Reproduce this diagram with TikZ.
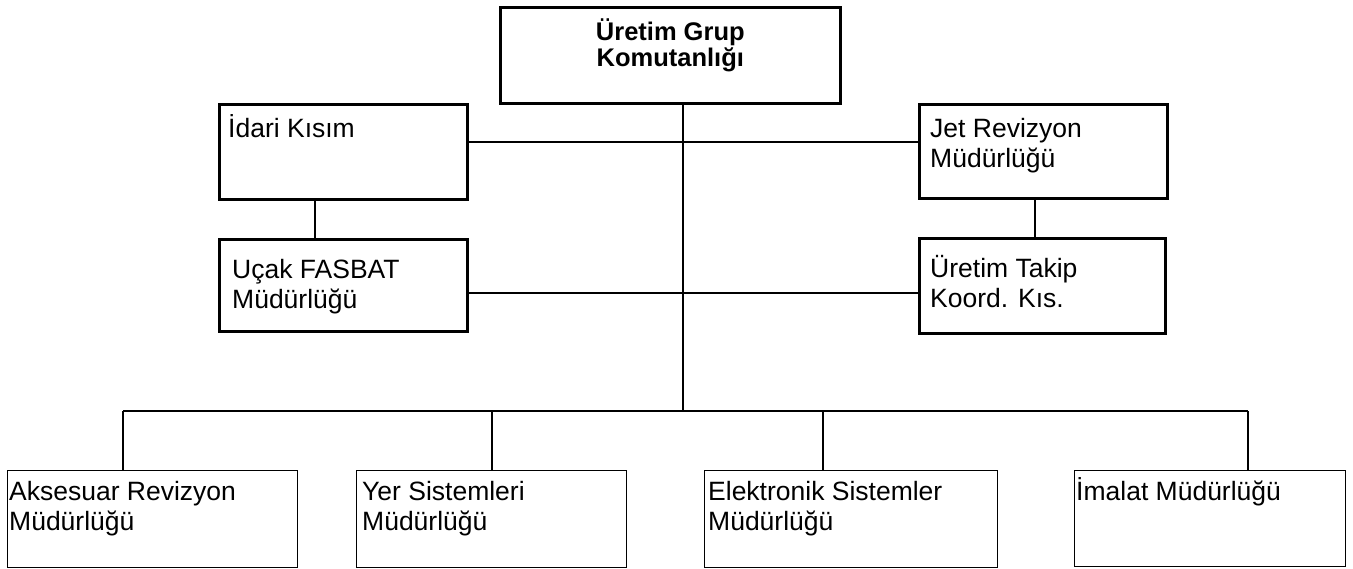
\documentclass[tikz,border=0pt]{standalone}
\usepackage{fontspec}
\setmainfont{Liberation Sans}
\newcommand\twolines[3][l]{\begin{tabular}[t]{@{}#1@{}}#2\\#3\end{tabular}}
\begin{document}
\begin{tikzpicture}[x=1pt,y=-1pt,
  heavy/.style={line width=2.6pt},
  light/.style={line width=1.2pt},
  unitbox/.style={draw, inner sep=0pt, anchor=north west},
  label/.style={inner sep=0pt, anchor=base west,
    font=\fontsize{26.5}{30}\selectfont},
  title/.style={inner sep=0pt, anchor=base,
    font=\fontsize{25.5}{26}\selectfont\bfseries}]
  % page frame
  \useasboundingbox (0,0) rectangle (1353,568);

  % command unit
  \node[unitbox, heavy, minimum width=340pt, minimum height=96pt] (cmd) at (499,6) {};
  \node[title] (cmd-t) at ([yshift=-34pt]cmd.north) {\twolines[c]{Üretim Grup}{Komutanlığı}};

  % staff units beside the main line
  \node[unitbox, heavy, minimum width=248pt, minimum height=95pt] (idari) at (218,103) {};
  \node[unitbox, heavy, minimum width=248pt, minimum height=92pt] (ucak) at (218,238) {};
  \node[unitbox, heavy, minimum width=248pt, minimum height=94pt] (jet) at (918,103) {};
  \node[unitbox, heavy, minimum width=246pt, minimum height=95pt] (takip) at (918,237) {};

  \node[label] (idari-t) at ([xshift=10pt,yshift=-34pt]idari.north west) {İdari Kısım};
  \node[label] (ucak-t) at ([xshift=14pt,yshift=-40pt]ucak.north west) {\twolines{Uçak FASBAT}{Müdürlüğü}};
  \node[label] (jet-t) at ([xshift=12pt,yshift=-34pt]jet.north west) {\twolines{Jet Revizyon}{Müdürlüğü}};
  \node[label] (takip-t) at ([xshift=12pt,yshift=-40pt]takip.north west) {\twolines{Üretim Takip}{Koord. Kıs.}};

  % directorates on the lower row
  \node[unitbox, light, minimum width=290pt, minimum height=97pt] (aks) at (7,470) {};
  \node[unitbox, light, minimum width=270pt, minimum height=97pt] (yer) at (356,470) {};
  \node[unitbox, light, minimum width=293pt, minimum height=97pt] (elek) at (704,470) {};
  \node[unitbox, light, minimum width=271pt, minimum height=96pt] (imalat) at (1074,470) {};

  \node[label] (aks-t) at ([xshift=2pt,yshift=-30pt]aks.north west) {\twolines{Aksesuar Revizyon}{Müdürlüğü}};
  \node[label] (yer-t) at ([xshift=6pt,yshift=-30pt]yer.north west) {\twolines{Yer Sistemleri}{Müdürlüğü}};
  \node[label] (elek-t) at ([xshift=4pt,yshift=-30pt]elek.north west) {\twolines{Elektronik Sistemler}{Müdürlüğü}};
  \node[label] (imalat-t) at ([xshift=2pt,yshift=-30pt]imalat.north west) {İmalat Müdürlüğü};

  % connection points
  \coordinate (spine) at (683,102);
  \coordinate (bus) at (683,411);
  \coordinate (busL) at (123,411);
  \coordinate (busR) at (1248,411);

  % main line and side links
  \draw[heavy] (spine) -- (bus);
  \draw[heavy] (idari.east |- 0,142) -- (jet.west |- 0,142);
  \draw[heavy] (ucak.east |- 0,293) -- (takip.west |- 0,293);
  \draw[heavy] (idari.south -| 315,0) -- (ucak.north -| 315,0);
  \draw[heavy] (jet.south -| 1035,0) -- (takip.north -| 1035,0);

  % distribution bus to the directorates
  \draw[light] (busL) -- (busR);
  \draw[light] (busL) -- (aks.north -| busL);
  \draw[light] (busL -| 492,0) -- (yer.north -| 492,0);
  \draw[light] (busL -| 823,0) -- (elek.north -| 823,0);
  \draw[light] (busR) -- (imalat.north -| busR);
\end{tikzpicture}
\end{document}
